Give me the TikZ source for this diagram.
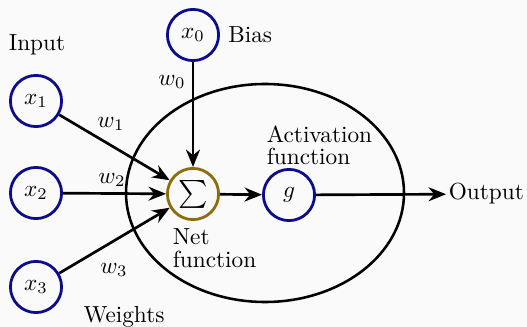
\documentclass[tikz,border=0pt]{standalone}
\usepackage{amsmath}
\usetikzlibrary{positioning, arrows.meta}

\definecolor{neuronblue}{RGB}{12,12,140}
\definecolor{sumgold}{RGB}{140,108,12}
\definecolor{paper}{RGB}{250,250,250}

\begin{document}
\begin{tikzpicture}[
        x=0.0151cm, y=-0.0151cm,
        neuron/.style={draw=neuronblue, circle, line width=1.2pt, minimum size=22pt, inner sep=0pt},
        sumnode/.style={neuron, draw=sumgold},
        lbl/.style={align=left, inner sep=1pt},
        arrow/.style={-{Stealth[length=7.5pt, width=6pt]}, line width=1.15pt}
    ]
    \fill[paper] (0,0) rectangle (527,327);
    \useasboundingbox (0,0) rectangle (527,327);

    % the neuron body
    \draw[line width=1.1pt] (265,193) ellipse [x radius=139, y radius=109];

    \node[neuron] (x0) at (193,35) {$x_0$};
    \node[neuron] (x1) at (36,101) {$x_1$};
    \node[neuron] (x2) at (36,193) {$x_2$};
    \node[neuron] (x3) at (36,287) {$x_3$};

    \node[sumnode, font=\large] (Sum) at (193,194) {$\sum$};
    \node[neuron] (G) at (289,195) {$g$};

    \node[lbl, anchor=west] (Output) at (446,194) {Output};

    \node[lbl] (Input) at (37,45) {Input};
    \node[lbl, right=2.4pt of x0] (Bias) {Bias};
    \node[lbl] (W0) at (172,82) {$w_0$};
    \node[lbl] (W1) at (111,124) {$w_1$};
    \node[lbl] (W2) at (112,180) {$w_2$};
    \node[lbl] (W3) at (114,270) {$w_3$};
    \node[lbl] (Weights) at (124,317) {Weights};
    \node[lbl, anchor=north west] (NetFn) at (170,226) {Net\\[-2pt]function};
    \node[lbl, anchor=north west] (ActFn) at (264,123) {Activation\\[-2.5pt]function};

    \draw[arrow] (x0) -- (Sum);
    \draw[arrow] (x1) -- (Sum);
    \draw[arrow] (x2) -- (Sum);
    \draw[arrow] (x3) -- (Sum);

    \draw[arrow] (Sum) -- (G);
    \draw[arrow] (G) -- (Output);

\end{tikzpicture}
\end{document}
